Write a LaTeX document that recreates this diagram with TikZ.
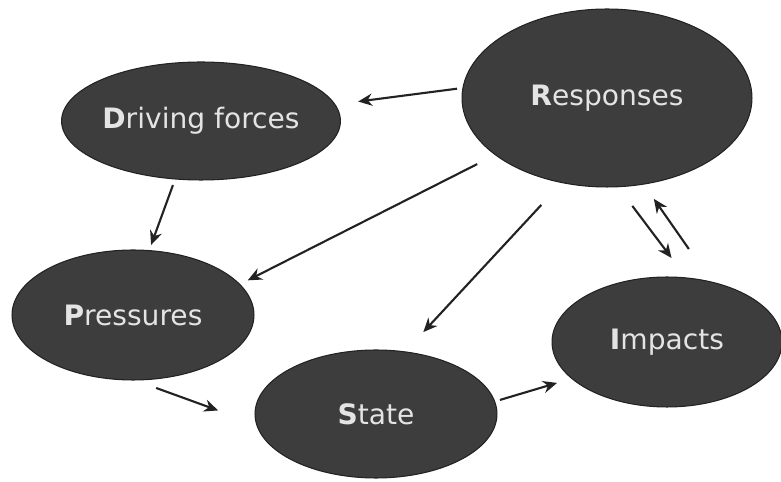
\documentclass[tikz,border=0pt]{standalone}
\usepackage{fontspec}
\setmainfont{DejaVu Sans}
\usetikzlibrary{arrows.meta,shapes.geometric}

\definecolor{ovalfill}{HTML}{3D3D3D}
\definecolor{ovaltext}{HTML}{E4E4E4}
\definecolor{inkgray}{HTML}{222222}

\begin{document}
\begin{tikzpicture}[
    x=0.02cm, y=-0.02cm,
    oval/.style={
        ellipse,
        draw=inkgray,
        line width=0.6pt,
        fill=ovalfill,
        text=ovaltext,
        inner sep=0pt,
        outer sep=0pt,
        font=\fontsize{16}{19}\selectfont
    },
    arrow/.style={
        -{Stealth[length=8pt,width=7pt]},
        line width=1.2pt,
        draw=inkgray
    }
]

\useasboundingbox (0,0) rectangle (781,482);

% Ellipses
\node[oval, minimum width=4.84cm, minimum height=2.36cm] (driving) at (201,121) {\textbf{D}riving forces};
\node[oval, minimum width=5.8cm, minimum height=3.56cm] (responses) at (607,98) {\textbf{R}esponses};
\node[oval, minimum width=4.84cm, minimum height=2.6cm] (pressures) at (133,315) {\textbf{P}ressures};
\node[oval, minimum width=4.84cm, minimum height=2.56cm] (state) at (376,414) {\textbf{S}tate};
\node[oval, minimum width=4.6cm, minimum height=2.6cm] (impacts) at (667,342) {\textbf{I}mpacts};

% Arrows from Responses
\draw[arrow, shorten <=0.12cm, shorten >=0.47cm] (responses.176) -- (driving.7);
\draw[arrow, shorten <=0.41cm, shorten >=0.18cm] (responses.207) -- (pressures.16);
\draw[arrow, shorten <=0.61cm, shorten >=0.54cm] (responses.242) -- (state.65);
\draw[arrow, shorten <=0.48cm, shorten >=0.50cm] (responses.277) -- (impacts.73);
\draw[arrow, shorten <=0.81cm, shorten >=0.36cm] (impacts.53) -- (responses.293);

% Chain D -> P -> S -> I
\draw[arrow, shorten <=0.13cm, shorten >=0.12cm] (driving.246) -- (pressures.76);
\draw[arrow, shorten <=0.47cm, shorten >=0.82cm] (pressures.271) -- (state.185);
\draw[arrow, shorten <=0.11cm, shorten >=0.31cm] (state.6) -- (impacts.201);

\end{tikzpicture}
\end{document}
